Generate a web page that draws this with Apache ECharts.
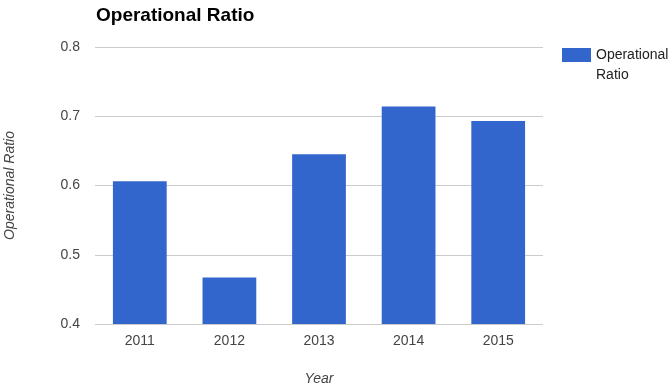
<!DOCTYPE html>
<html>
<head>
<meta charset="utf-8">
<script src="https://cdn.jsdelivr.net/npm/echarts@6/dist/echarts.min.js"></script>
<style>html,body{margin:0;padding:0;background:#fff;}#c{width:668px;height:388px;}</style>
</head>
<body>
<div id="c"></div>
<script>
var categories = ['2011', '2012', '2013', '2014', '2015'];
var values = [0.606, 0.467, 0.645, 0.714, 0.693];
var seriesName = 'Operational Ratio';
var yTicks = { min: 0.4, max: 0.8, interval: 0.1 };

var chart = echarts.init(document.getElementById('c'), null, { renderer: 'canvas' });
var font = 'Arial, "Liberation Sans", sans-serif';
chart.setOption({
  animation: false,
  textStyle: { fontFamily: font },
  title: {
    text: 'Operational Ratio',
    left: 91, top: 1,
    textStyle: { fontFamily: font, fontWeight: 'bold', fontSize: 19, color: '#000' }
  },
  legend: {
    data: [seriesName],
    left: 557, top: 20,
    itemWidth: 29, itemHeight: 14,
    icon: 'rect',
    itemGap: 7,
    formatter: function () { return '\nOperational\nRatio'; },
    textStyle: { fontFamily: font, fontSize: 14, color: '#222', lineHeight: 20 }
  },
  grid: { left: 95, right: 125, top: 47, bottom: 64, containLabel: false, outerBoundsMode: 'none' },
  xAxis: {
    type: 'category',
    data: categories,
    name: 'Year',
    nameLocation: 'middle',
    nameGap: 48,
    nameTextStyle: { fontFamily: font, fontStyle: 'italic', fontSize: 14, color: '#444' },
    axisLine: { show: false },
    axisTick: { show: false },
    axisLabel: { fontFamily: font, fontSize: 14, color: '#444', margin: 10 }
  },
  yAxis: {
    type: 'value',
    min: yTicks.min, max: yTicks.max, interval: yTicks.interval,
    name: 'Operational Ratio',
    nameLocation: 'middle',
    nameGap: 78,
    nameTextStyle: { fontFamily: font, fontStyle: 'italic', fontSize: 14, color: '#444' },
    axisLine: { show: false },
    axisTick: { show: false },
    axisLabel: { fontFamily: font, fontSize: 14, color: '#444', margin: 15,
      formatter: function (v) { return v.toFixed(1); } },
    splitLine: { lineStyle: { color: '#cccccc', width: 1 } }
  },
  series: [{
    name: seriesName,
    type: 'bar',
    data: values,
    barWidth: '60%',
    itemStyle: { color: '#3366cc' }
  }]
});
</script>
</body>
</html>
